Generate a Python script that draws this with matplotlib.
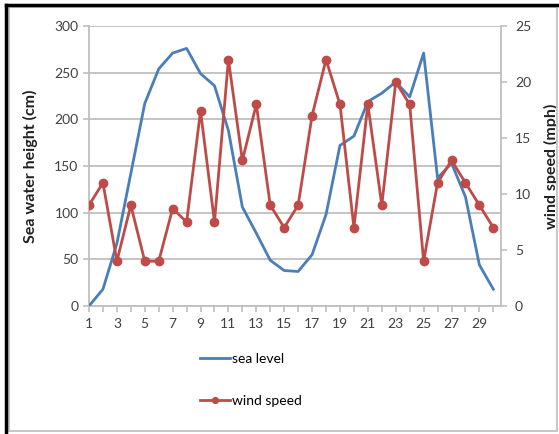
import matplotlib
matplotlib.use("Agg")
import matplotlib.pyplot as plt
from matplotlib.lines import Line2D
from matplotlib.patches import Rectangle

days = list(range(1, 31))
sea_level = [0, 18, 67, 142, 217, 254, 271, 276, 249, 236,
             188, 106, 78, 49, 38, 37, 55, 98, 172, 182,
             219, 228, 240, 224, 271, 137, 153, 117, 44, 18]
wind_speed = [9, 11, 4, 9, 4, 4, 8.7, 7.5, 17.4, 7.5,
              22, 13, 18, 9, 7, 9, 17, 22, 18, 7,
              18, 9, 20, 18, 4, 11, 13, 11, 9, 7]
left_ticks = [0, 50, 100, 150, 200, 250, 300]
right_ticks = [0, 5, 10, 15, 20, 25]

BLUE = "#4a7ebb"
RED = "#be4b48"
GRID = "#bfbfbf"
TXT = "#404040"

plt.rcParams['font.family'] = ['Lato', 'DejaVu Sans']

fig = plt.figure(figsize=(5.59, 4.34), dpi=100)
W, H = 559, 434

# frame
fig.patches.append(Rectangle((9 / W, 3 / H), 548 / W, 424 / H, transform=fig.transFigure,
                             fill=False, edgecolor="#c8c8c8", linewidth=1.5))
fig.add_artist(Line2D([6 / W, 6 / W], [0, 1 - 5 / H], transform=fig.transFigure,
                      color="black", linewidth=2.5))
fig.add_artist(Line2D([6 / W, 1], [1 - 5 / H, 1 - 5 / H], transform=fig.transFigure,
                      color="black", linewidth=2.5))

ax = fig.add_axes([89 / W, 1 - 306 / H, (501 - 89) / W, (306 - 26) / H])
ax2 = ax.twinx()

l1, = ax.plot(days, sea_level, color=BLUE, linewidth=2.0, label="sea level", zorder=3)
l2, = ax2.plot(days, wind_speed, color=RED, linewidth=2.0, marker="o", markersize=6,
               label="wind speed", zorder=3)

ax.set_xlim(1, 30.55)
ax.set_ylim(0, 300)
ax2.set_ylim(0, 25)
ax.set_yticks(left_ticks)
ax2.set_yticks(right_ticks)
ax.set_xticks(days)
ax.set_xticklabels([str(d) if d % 2 == 1 else "" for d in days])

ax.yaxis.grid(True, color=GRID, linewidth=1.3)
ax.set_axisbelow(True)

for a in (ax, ax2):
    for s in a.spines.values():
        s.set_visible(False)
ax.spines['left'].set_visible(True)
ax.spines['bottom'].set_visible(True)
ax2.spines['right'].set_visible(True)
for s in (ax.spines['left'], ax.spines['bottom'], ax2.spines['right']):
    s.set_color(GRID)
    s.set_linewidth(1.3)

ax.tick_params(axis='both', colors=GRID, labelcolor=TXT, labelsize=10, length=4, width=1.2)
ax.tick_params(axis='x', pad=5)
ax2.tick_params(axis='y', colors=GRID, labelcolor=TXT, labelsize=10, length=4, width=1.2, pad=6)

ax.set_ylabel("Sea water height (cm)", fontsize=11.5, fontweight='bold', color="#202020", labelpad=12)
ax2.set_ylabel("wind speed (mph)", fontsize=11.5, fontweight='bold', color="#202020", labelpad=9)

fig.legend(handles=[l1, l2], loc="upper left", bbox_to_anchor=(194 / W, 1 - 347 / H),
           frameon=False, fontsize=10, handlelength=2.2, handletextpad=0.15,
           labelspacing=2.2, borderaxespad=0, markerscale=0.7)

fig.savefig("out.png", dpi=100)
